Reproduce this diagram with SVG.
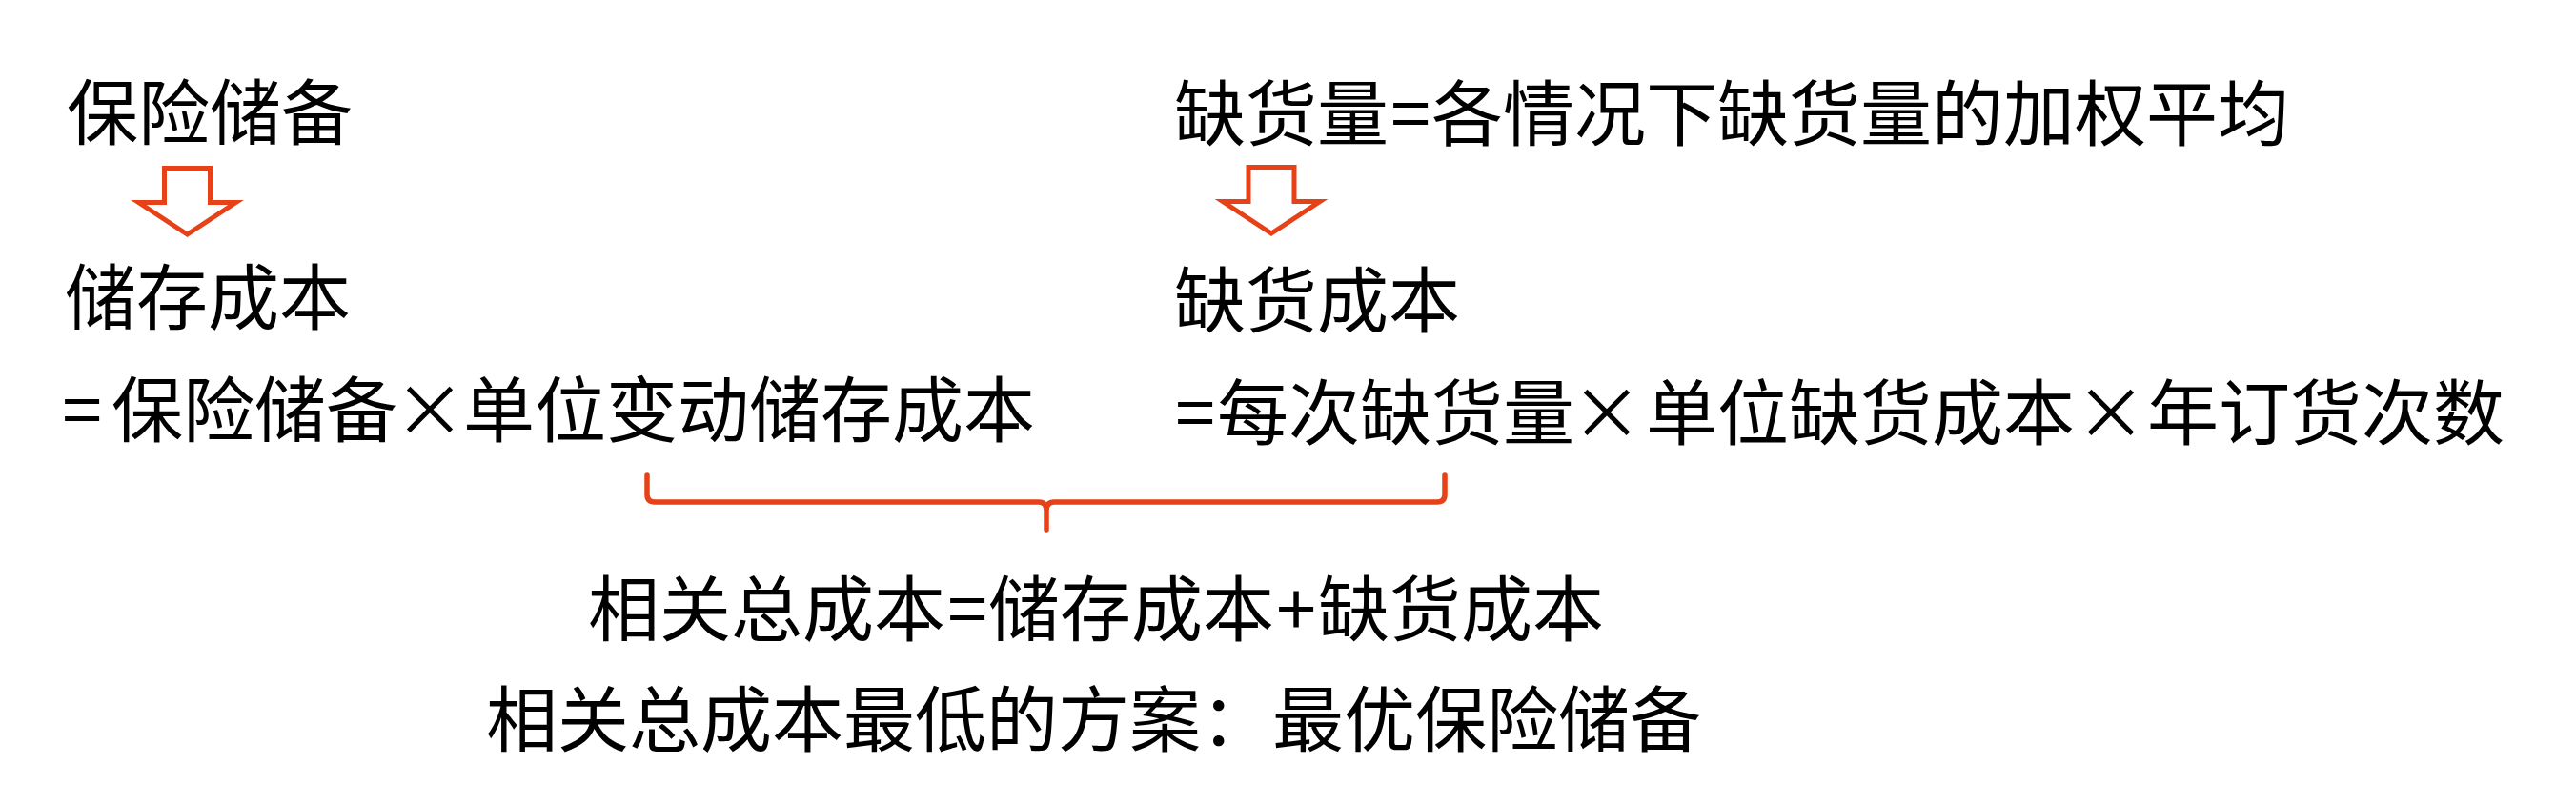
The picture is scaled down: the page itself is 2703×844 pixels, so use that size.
<svg xmlns="http://www.w3.org/2000/svg" width="2703" height="844" viewBox="0 0 2703 844">
<style>
  text { font-family: "Noto Sans CJK SC", "Noto Sans CJK TC", sans-serif; font-size: 75px; fill: #000; }
  .mid { text-anchor: middle; }
  .arrow { fill: #fff; stroke: #E64117; stroke-width: 5; stroke-linejoin: miter; }
  .brace { fill: none; stroke: #E64117; stroke-width: 5.5; stroke-linecap: round; stroke-linejoin: round; }
</style>
<defs>
  <path id="downArrow" d="M172.5,176.5 H220.5 V212.5 H247.5 L196.5,246 L145.5,212.5 H172.5 Z"/>
</defs>
<rect width="2703" height="844" fill="#fff"/>

<g id="left-safety-stock">
  <text x="70" y="146">保险储备</text>
</g>
<g id="left-holding-cost">
  <text x="68" y="340">储存成本</text>
</g>
<g id="left-formula">
  <text y="458"><tspan class="mid" x="86">=</tspan><tspan x="117">保险储备</tspan><tspan class="mid" x="451">×</tspan><tspan x="486">单位变动储存成本</tspan></text>
</g>

<g id="right-shortage-qty">
  <text y="147"><tspan x="1232">缺货量</tspan><tspan class="mid" x="1480">=</tspan><tspan x="1502">各情况下缺货量的加权平均</tspan></text>
</g>
<g id="right-shortage-cost">
  <text x="1232" y="343">缺货成本</text>
</g>
<g id="right-formula">
  <text y="461"><tspan class="mid" x="1254">=</tspan><tspan x="1277">每次缺货量</tspan><tspan class="mid" x="1686">×</tspan><tspan x="1727">单位缺货成本</tspan><tspan class="mid" x="2215">×</tspan><tspan x="2253">年订货次数</tspan></text>
</g>

<g id="total-cost">
  <text y="667"><tspan x="617">相关总成本</tspan><tspan class="mid" x="1015">=</tspan><tspan x="1037">储存成本</tspan><tspan class="mid" x="1360">+</tspan><tspan x="1383">缺货成本</tspan></text>
</g>
<g id="optimal">
  <text x="510" y="783">相关总成本最低的方案：最优保险储备</text>
</g>

<g id="connectors">
  <use href="#downArrow" class="arrow"/>
  <use href="#downArrow" class="arrow" transform="translate(1137.5,-1)"/>
  <path class="brace" d="M679,499 V519 Q679,527 687,527 H1090 Q1098,527 1098,536 V556 M1098,536 Q1098,527 1106,527 H1508 Q1516,527 1516,519 V499"/>
</g>
</svg>
